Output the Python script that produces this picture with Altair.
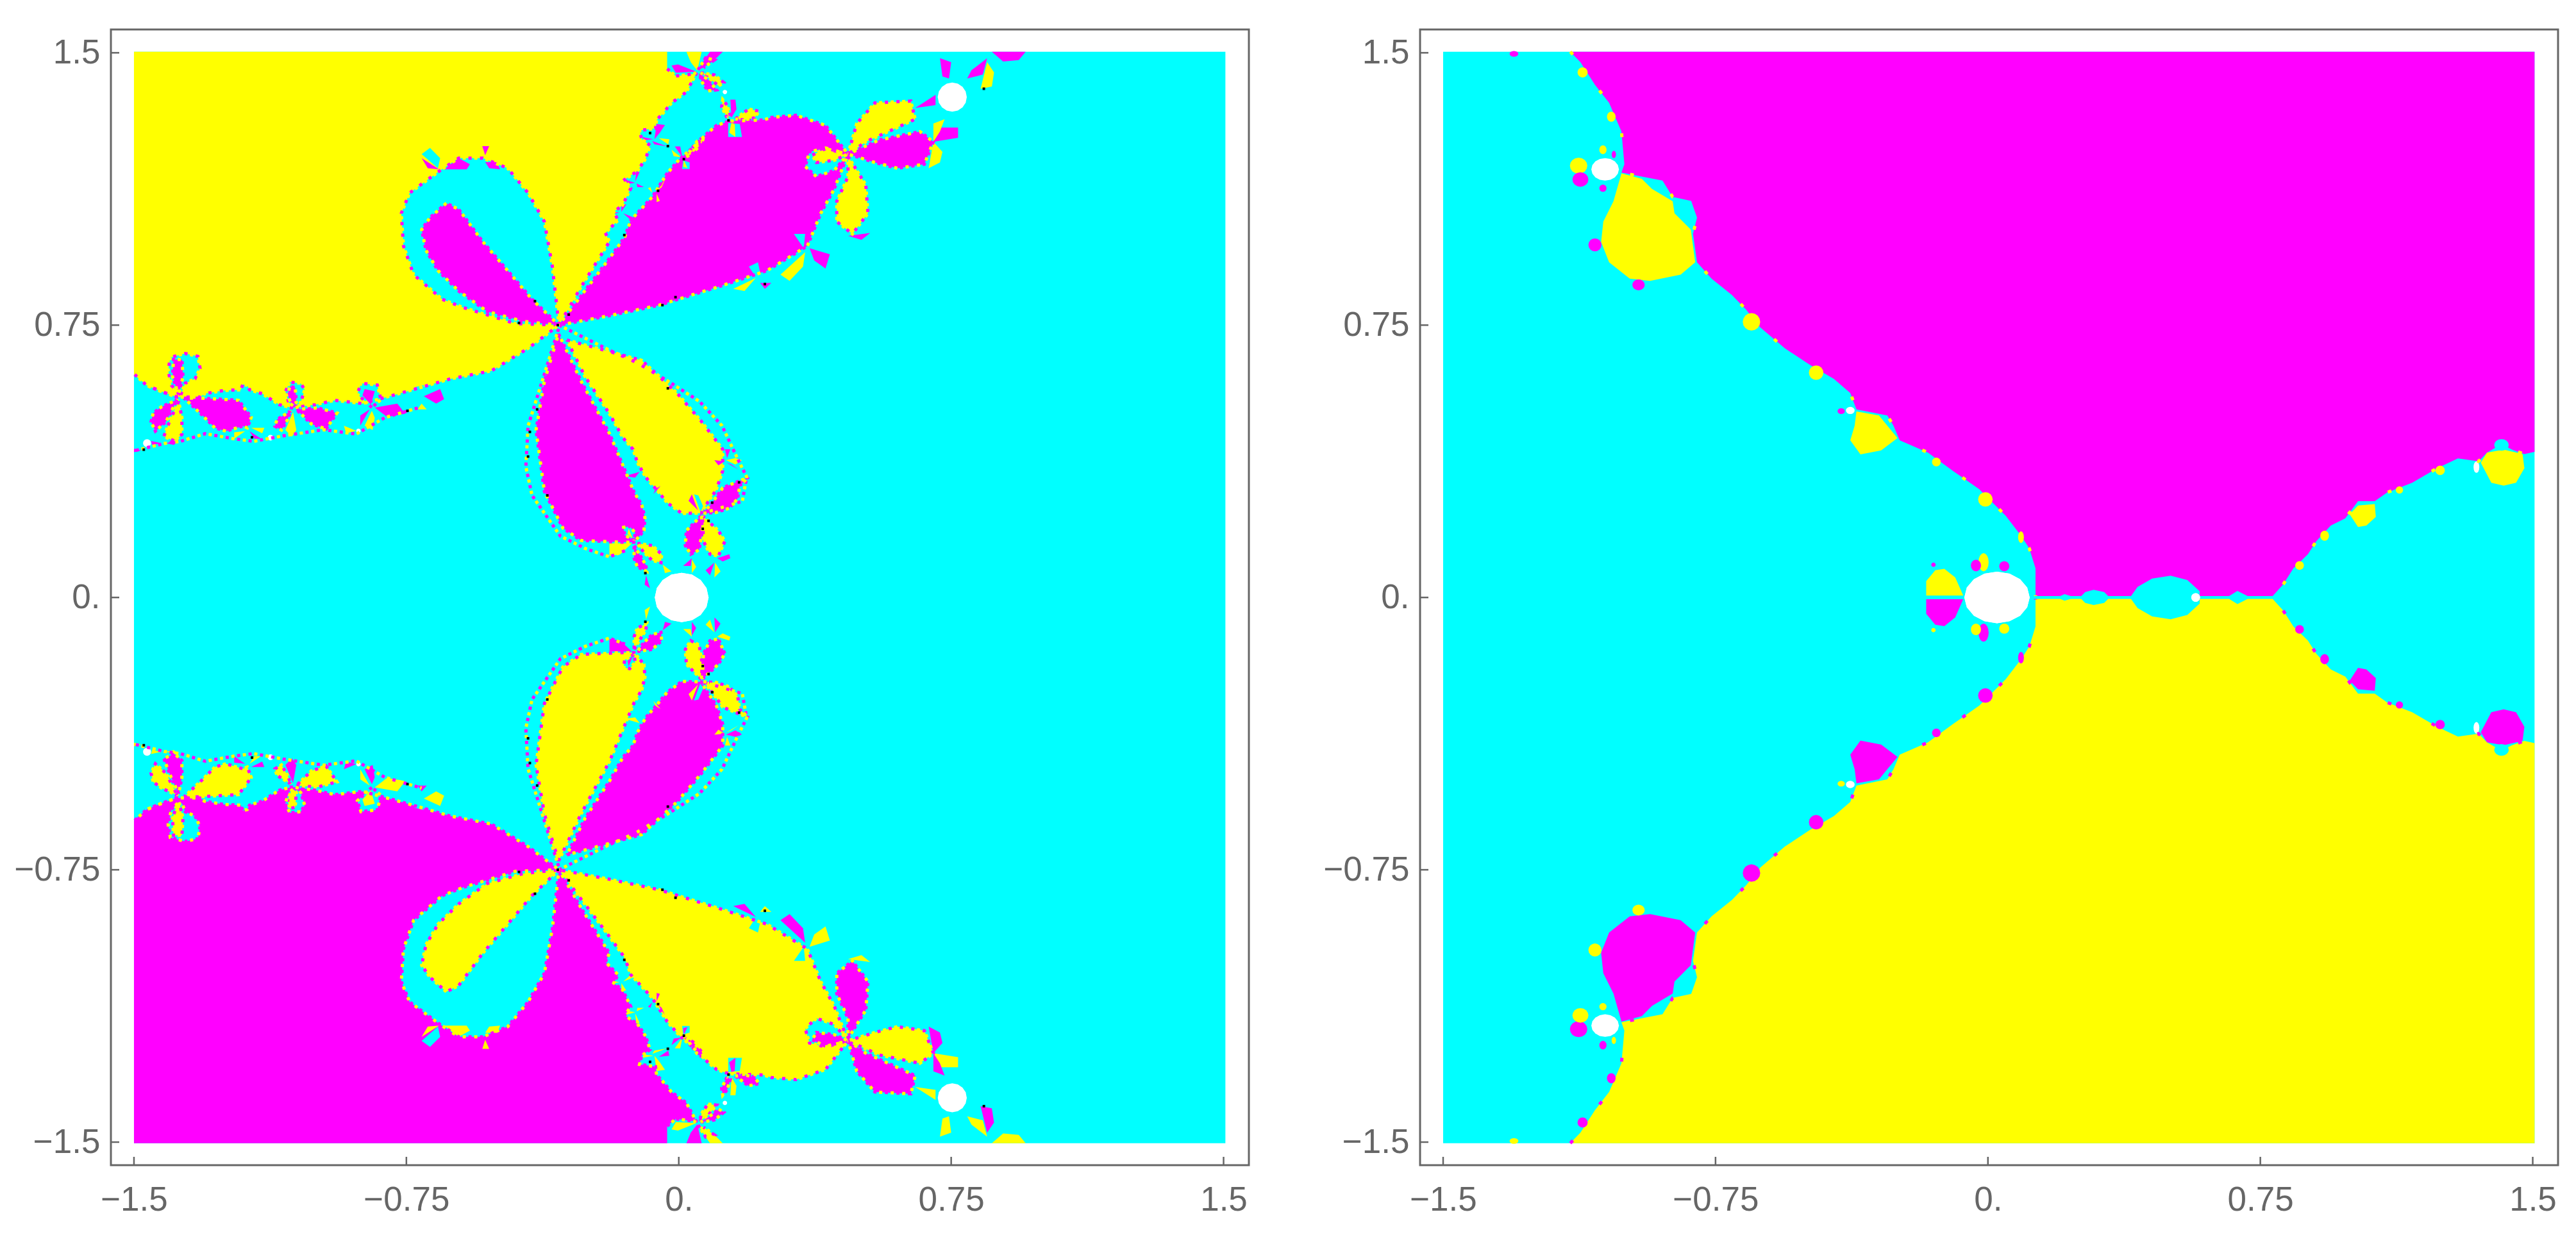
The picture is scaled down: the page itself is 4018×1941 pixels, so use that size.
import math
import altair as alt
import pandas as pd

CYAN, YELLOW, MAGENTA, WHITE, BLACK = "#00ffff", "#ffff00", "#ff00ff", "#ffffff", "#000000"
GRAY = "#666666"
SWAP = {"y": "m", "m": "y", "c": "c", "w": "w", "k": "k"}
HEX = {"y": YELLOW, "m": MAGENTA, "c": CYAN, "w": WHITE, "k": BLACK}

tick_values = [-1.5, -0.75, 0, 0.75, 1.5]
tick_labels = ["\u22121.5", "\u22120.75", "0.", "0.75", "1.5"]
x_domain = [-1.5635, 1.5697]
y_domain = [-1.5635, 1.5642]
image_extent = [(-1.5, 1.503), (1.505, 1.503), (1.505, -1.503), (-1.5, -1.503)]

# Left panel, upper half (the lower half is its conjugate: mirrored, yellow and magenta exchanged)
left_regions = [
    ("y", [(-1.5, 1.503), (-0.032, 1.503), (-0.032, 1.456), (-0.008, 1.436), (0.042, 1.442), (0.051, 1.448),
           (0.021, 1.392), (-0.02, 1.362), (-0.044, 1.333), (-0.061, 1.315), (-0.064, 1.292), (-0.108, 1.286),
           (-0.102, 1.262), (-0.079, 1.245), (-0.091, 1.209), (-0.114, 1.174), (-0.149, 1.151), (-0.132, 1.127),
           (-0.155, 1.08), (-0.179, 1.062), (-0.167, 1.039), (-0.202, 1.004), (-0.191, 0.98), (-0.269, 0.855),
           (-0.33, 0.75), (-0.415, 0.686), (-0.516, 0.624), (-0.629, 0.602), (-0.708, 0.579), (-0.786, 0.557),
           (-0.871, 0.534), (-0.947, 0.543), (-1.0, 0.531), (-1.065, 0.522), (-1.1, 0.531), (-1.147, 0.561),
           (-1.182, 0.572), (-1.188, 0.584), (-1.2, 0.587), (-1.206, 0.572), (-1.253, 0.57), (-1.306, 0.561),
           (-1.318, 0.552), (-1.382, 0.552), (-1.429, 0.569), (-1.465, 0.584), (-1.5, 0.614)]),
    ("y", [(0.021, 1.503), (0.063, 1.503), (0.051, 1.451), (0.033, 1.474)]),
    ("c", [(-0.33, 0.75), (-0.348, 0.911), (-0.37, 1.035), (-0.415, 1.114), (-0.471, 1.182), (-0.539, 1.21),
           (-0.606, 1.21), (-0.657, 1.176), (-0.741, 1.114), (-0.764, 1.058), (-0.758, 0.968), (-0.73, 0.889),
           (-0.651, 0.821), (-0.595, 0.799), (-0.449, 0.754)]),
    ("m", [(-0.33, 0.75), (-0.404, 0.821), (-0.471, 0.9), (-0.539, 0.979), (-0.606, 1.069), (-0.64, 1.086),
           (-0.685, 1.046), (-0.708, 1.013), (-0.696, 0.956), (-0.663, 0.9), (-0.606, 0.844), (-0.528, 0.788),
           (-0.426, 0.76)]),
    ("m", [(-0.33, 0.75), (-0.191, 0.934), (-0.149, 0.992), (-0.132, 1.039), (-0.073, 1.103), (-0.032, 1.168),
           (0.004, 1.209), (0.039, 1.239), (0.08, 1.28), (0.104, 1.3), (0.139, 1.312), (0.233, 1.315), (0.255, 1.322),
           (0.323, 1.328), (0.404, 1.3), (0.466, 1.221), (0.428, 1.125), (0.391, 1.058), (0.354, 0.968), (0.243, 0.9),
           (0.107, 0.855), (-0.054, 0.805), (-0.191, 0.776)]),
    ("y", [(-0.308, 0.709), (-0.102, 0.653), (-0.005, 0.563), (0.063, 0.484), (0.121, 0.408), (0.121, 0.349),
           (0.103, 0.296), (0.071, 0.249), (0.062, 0.232), (0.033, 0.232), (0.009, 0.231), (-0.032, 0.261),
           (-0.058, 0.293), (-0.091, 0.331), (-0.114, 0.372), (-0.126, 0.408), (-0.153, 0.439), (-0.191, 0.506),
           (-0.258, 0.608)]),
    ("m", [(-0.331, 0.726), (-0.269, 0.596), (-0.19, 0.45), (-0.123, 0.29), (-0.102, 0.255), (-0.093, 0.219),
           (-0.096, 0.184), (-0.123, 0.152), (-0.156, 0.152), (-0.269, 0.157), (-0.319, 0.191), (-0.37, 0.292),
           (-0.393, 0.461), (-0.37, 0.596)]),
]

left_chain_right = [
    ("c", [(0.466, 1.221), (0.428, 1.176), (0.379, 1.159), (0.348, 1.187), (0.36, 1.227), (0.404, 1.238)]),
    ("y", [(0.466, 1.221), (0.404, 1.236), (0.367, 1.218), (0.379, 1.198), (0.428, 1.204)]),
    ("y", [(0.466, 1.221), (0.49, 1.305), (0.54, 1.362), (0.639, 1.367), (0.651, 1.317), (0.577, 1.283), (0.515, 1.255)]),
    ("m", [(0.466, 1.221), (0.552, 1.26), (0.664, 1.283), (0.701, 1.255), (0.676, 1.193), (0.602, 1.182), (0.54, 1.198)]),
    ("y", [(0.466, 1.215), (0.515, 1.136), (0.521, 1.058), (0.478, 1.001), (0.435, 1.035), (0.435, 1.091), (0.466, 1.159)]),
    ("m", [(0.466, 0.996), (0.527, 1.004), (0.503, 0.985)]),
    ("y", [(0.701, 1.255), (0.726, 1.227), (0.719, 1.198), (0.688, 1.182)]),
    ("m", [(0.701, 1.255), (0.713, 1.294), (0.769, 1.294), (0.769, 1.266)]),
    ("y", [(0.701, 1.255), (0.701, 1.305), (0.732, 1.317), (0.719, 1.283)]),
    ("m", [(0.651, 1.348), (0.707, 1.384), (0.707, 1.356)]),
    ("m", [(0.719, 1.485), (0.75, 1.474), (0.744, 1.429), (0.726, 1.435)]),
    ("m", [(0.849, 1.485), (0.806, 1.452), (0.794, 1.429), (0.837, 1.44)]),
    ("y", [(0.849, 1.474), (0.868, 1.446), (0.862, 1.407), (0.831, 1.401)]),
    ("m", [(0.862, 1.503), (0.955, 1.503), (0.936, 1.48), (0.893, 1.476)]),
    ("y", [(0.348, 0.951), (0.28, 0.889), (0.305, 0.872), (0.342, 0.911)]),
    ("m", [(0.36, 0.962), (0.416, 0.945), (0.404, 0.906), (0.373, 0.928)]),
    ("c", [(0.344, 0.962), (0.317, 1.001), (0.348, 1.001)]),
    ("y", [(0.212, 0.88), (0.15, 0.85), (0.181, 0.844)]),
    ("c", [(0.21, 0.885), (0.193, 0.911), (0.218, 0.923), (0.224, 0.895)]),
    ("m", [(0.224, 0.866), (0.255, 0.866), (0.237, 0.85)]),
]

left_chain_band = [
    ("m", [(0.048, 1.448), (-0.002, 1.468), (-0.02, 1.465), (-0.008, 1.445)]),
    ("m", [(0.053, 1.453), (0.074, 1.486), (0.086, 1.503), (0.121, 1.503), (0.098, 1.48), (0.068, 1.459)]),
    ("m", [(0.057, 1.442), (0.08, 1.427), (0.104, 1.398), (0.08, 1.395), (0.063, 1.421)]),
    ("y", [(0.06, 1.445), (0.098, 1.439), (0.124, 1.418), (0.11, 1.409), (0.08, 1.433)]),
    ("y", [(0.133, 1.321), (0.118, 1.351), (0.121, 1.371), (0.133, 1.356), (0.142, 1.327)]),
    ("m", [(0.145, 1.321), (0.142, 1.371), (0.156, 1.371), (0.159, 1.345)]),
    ("y", [(0.156, 1.318), (0.192, 1.345), (0.221, 1.339), (0.209, 1.321), (0.18, 1.315)]),
    ("c", [(0.136, 1.307), (0.136, 1.268), (0.174, 1.268), (0.168, 1.304)]),
    ("y", [(0.145, 1.307), (0.139, 1.28), (0.156, 1.268), (0.154, 1.304)]),
    ("c", [(0.012, 1.204), (0.009, 1.18), (0.03, 1.18), (0.03, 1.198)]),
    ("y", [(0.014, 1.204), (0.012, 1.186), (0.024, 1.183)]),
    ("y", [(0.019, 1.212), (0.051, 1.257), (0.069, 1.268), (0.063, 1.251), (0.039, 1.224)]),
    ("m", [(0.01, 1.212), (-0.011, 1.242), (0.004, 1.242)]),
    ("y", [(0.007, 1.212), (-0.02, 1.233), (-0.014, 1.215)]),
    ("y", [(-0.029, 1.248), (-0.055, 1.265), (-0.026, 1.262)]),
    ("m", [(-0.032, 1.242), (-0.073, 1.257), (-0.067, 1.248)]),
    ("m", [(-0.067, 1.262), (-0.061, 1.304), (-0.038, 1.301), (-0.052, 1.28)]),
    ("m", [(-0.07, 1.262), (-0.1, 1.268), (-0.096, 1.259)]),
    ("y", [(-0.058, 1.121), (-0.038, 1.151), (-0.047, 1.13)]),
    ("y", [(-0.061, 1.112), (-0.061, 1.089), (-0.052, 1.092)]),
    ("y", [(-0.085, 1.127), (-0.073, 1.115), (-0.078, 1.13)]),
    ("m", [(-0.12, 1.142), (-0.149, 1.151), (-0.14, 1.139)]),
    ("m", [(-0.116, 1.14), (-0.096, 1.13), (-0.114, 1.13)]),
    ("m", [(-0.12, 1.145), (-0.117, 1.174), (-0.108, 1.171)]),
    ("m", [(-0.158, 1.062), (-0.158, 1.08), (-0.144, 1.083)]),
    ("m", [(-0.163, 1.06), (-0.179, 1.062), (-0.176, 1.057)]),
    ("m", [(-0.153, 1.058), (-0.12, 1.045), (-0.132, 1.039)]),
]

left_chain_middle = [
    ("y", [(-0.191, 0.149), (-0.129, 0.149), (-0.161, 0.119), (-0.191, 0.114)]),
    ("m", [(-0.123, 0.143), (-0.091, 0.09), (-0.088, 0.072), (-0.114, 0.084), (-0.123, 0.108)]),
    ("y", [(-0.114, 0.149), (-0.073, 0.143), (-0.047, 0.119), (-0.049, 0.096), (-0.073, 0.102), (-0.097, 0.125)]),
    ("c", [(-0.123, 0.157), (-0.149, 0.172), (-0.152, 0.193), (-0.135, 0.196), (-0.12, 0.178)]),
    ("y", [(-0.138, 0.19), (-0.126, 0.16), (-0.141, 0.175)]),
    ("m", [(-0.09, 0.061), (-0.079, 0.025), (-0.094, 0.035)]),
    ("y", [(-0.044, 0.09), (-0.02, 0.072), (-0.038, 0.067)]),
    ("c", [(0.059, 0.237), (0.042, 0.284), (0.054, 0.281), (0.068, 0.249)]),
    ("m", [(0.053, 0.24), (0.027, 0.266), (0.036, 0.284), (0.045, 0.26)]),
    ("m", [(0.068, 0.232), (0.092, 0.261), (0.121, 0.302), (0.162, 0.319), (0.192, 0.331), (0.168, 0.308), (0.162, 0.272),
           (0.139, 0.246), (0.103, 0.234)]),
    ("m", [(0.062, 0.225), (0.021, 0.184), (0.018, 0.143), (0.033, 0.119), (0.056, 0.131), (0.065, 0.184)]),
    ("y", [(0.065, 0.225), (0.109, 0.184), (0.127, 0.155), (0.109, 0.114), (0.086, 0.119), (0.068, 0.155)]),
    ("m", [(0.106, 0.108), (0.139, 0.119), (0.142, 0.108), (0.121, 0.099)]),
    ("y", [(0.13, 0.378), (0.156, 0.384), (0.174, 0.378), (0.156, 0.366)]),
    ("m", [(0.13, 0.372), (0.165, 0.352), (0.145, 0.366)]),
    ("m", [(0.127, 0.408), (0.133, 0.384), (0.142, 0.408)]),
    ("m", [(0.098, 0.378), (0.127, 0.375), (0.109, 0.364)]),
    ("m", [(0.074, 0.075), (0.098, 0.096), (0.086, 0.061)]),
    ("y", [(0.1, 0.096), (0.115, 0.072), (0.098, 0.055)]),
    ("m", [(0.012, 0.087), (0.036, 0.108), (0.033, 0.087)]),
    ("y", [(0.036, 0.105), (0.048, 0.084), (0.036, 0.067)]),
    ("m", [(-0.149, 0.334), (-0.108, 0.346), (-0.12, 0.33)]),
    ("m", [(-0.064, 0.299), (-0.05, 0.307), (-0.07, 0.285)]),
]

left_chain_left = [
    ("c", [(-1.371, 0.558), (-1.359, 0.59), (-1.332, 0.602), (-1.318, 0.631), (-1.324, 0.664), (-1.359, 0.672),
           (-1.4, 0.661), (-1.406, 0.625), (-1.397, 0.584)]),
    ("m", [(-1.377, 0.558), (-1.394, 0.608), (-1.391, 0.655), (-1.368, 0.655), (-1.365, 0.608)]),
    ("m", [(-1.362, 0.549), (-1.318, 0.549), (-1.212, 0.543), (-1.177, 0.496), (-1.188, 0.467), (-1.2, 0.472),
           (-1.247, 0.458), (-1.277, 0.467), (-1.312, 0.502)]),
    ("m", [(-1.379, 0.546), (-1.424, 0.525), (-1.447, 0.508), (-1.453, 0.484), (-1.441, 0.458), (-1.412, 0.484), (-1.388, 0.531)]),
    ("y", [(-1.377, 0.54), (-1.4, 0.49), (-1.418, 0.443), (-1.388, 0.431), (-1.368, 0.449), (-1.368, 0.496)]),
    ("y", [(-1.224, 0.437), (-1.194, 0.458), (-1.224, 0.455)]),
    ("y", [(-1.177, 0.467), (-1.141, 0.467), (-1.147, 0.452)]),
    ("m", [(-1.182, 0.458), (-1.15, 0.437), (-1.168, 0.437)]),
    ("m", [(-1.412, 0.425), (-1.376, 0.434), (-1.39, 0.42)]),
    ("m", [(-1.453, 0.431), (-1.424, 0.425), (-1.45, 0.42)]),
    ("m", [(-1.5, 0.41), (-1.48, 0.405), (-1.5, 0.4)]),
    ("c", [(-1.058, 0.525), (-1.041, 0.537), (-1.03, 0.572), (-1.041, 0.59), (-1.071, 0.593), (-1.083, 0.567), (-1.074, 0.537)]),
    ("m", [(-1.064, 0.525), (-1.077, 0.558), (-1.071, 0.581), (-1.056, 0.578), (-1.053, 0.537)]),
    ("m", [(-1.053, 0.518), (-0.994, 0.522), (-0.941, 0.508), (-0.971, 0.464), (-1.012, 0.478)]),
    ("m", [(-1.068, 0.514), (-1.106, 0.49), (-1.112, 0.472), (-1.094, 0.461), (-1.077, 0.49)]),
    ("y", [(-1.062, 0.511), (-1.083, 0.461), (-1.065, 0.443), (-1.053, 0.461)]),
    ("y", [(-0.922, 0.473), (-0.888, 0.459), (-0.916, 0.452)]),
    ("c", [(-0.845, 0.523), (-0.885, 0.56), (-0.875, 0.59), (-0.83, 0.585), (-0.82, 0.545)]),
    ("m", [(-0.848, 0.531), (-0.871, 0.557), (-0.865, 0.574), (-0.837, 0.568)]),
    ("y", [(-0.845, 0.514), (-0.865, 0.473), (-0.843, 0.461), (-0.837, 0.495)]),
    ("m", [(-0.851, 0.518), (-0.877, 0.501), (-0.877, 0.473)]),
    ("m", [(-0.837, 0.523), (-0.775, 0.534), (-0.753, 0.506), (-0.803, 0.497)]),
    ("m", [(-0.702, 0.554), (-0.657, 0.574), (-0.646, 0.546), (-0.668, 0.534)]),
    ("c", [(-0.71, 0.551), (-0.728, 0.579), (-0.702, 0.585)]),
    ("y", [(-0.708, 0.534), (-0.719, 0.518), (-0.694, 0.518)]),
    ("c", [(-0.663, 1.182), (-0.708, 1.221), (-0.685, 1.238), (-0.657, 1.21)]),
    ("m", [(-0.66, 1.179), (-0.708, 1.21), (-0.691, 1.182)]),
    ("m", [(-0.646, 1.179), (-0.606, 1.21), (-0.575, 1.193), (-0.584, 1.179)]),
    ("m", [(-0.541, 1.243), (-0.522, 1.243), (-0.533, 1.218)]),
    ("m", [(-0.533, 1.199), (-0.5, 1.199), (-0.492, 1.179), (-0.522, 1.182)]),
]

left_extra_edges = [
    [(-0.331, 0.74), (-0.376, 0.596), (-0.415, 0.472), (-0.421, 0.36), (-0.404, 0.281), (-0.326, 0.169),
     (-0.258, 0.135), (-0.191, 0.112), (-0.147, 0.129)],
    [(-0.33, 0.75), (-0.191, 0.681), (-0.116, 0.647), (-0.03, 0.596), (0.057, 0.54), (0.119, 0.473),
     (0.162, 0.382), (0.187, 0.332), (0.175, 0.265), (0.063, 0.231)],
    [(-1.495, 0.405), (-1.417, 0.424), (-1.372, 0.43), (-1.304, 0.451), (-1.225, 0.437), (-1.17, 0.43),
     (-1.09, 0.445), (-0.978, 0.462), (-0.888, 0.45), (-0.81, 0.495), (-0.708, 0.525)],
    [(-1.498, 0.614), (-1.465, 0.584), (-1.429, 0.569), (-1.382, 0.552)],
]

# blobs: colour, centre x, centre y, half width, half height
left_blobs = [
    ("w", 0.008, 0.0, 0.074, 0.068),
    ("w", 0.753, 1.378, 0.04, 0.04),
    ("w", -1.464, 0.425, 0.011, 0.011),
    ("w", -1.124, 0.44, 0.008, 0.008),
    ("w", -0.882, 0.459, 0.006, 0.006),
    ("w", 0.127, 1.392, 0.006, 0.006),
]

left_specks = [(-0.333, 0.75), (-0.396, 0.816), (-0.44, 0.756), (-0.303, 0.779), (-0.39, 0.518), (-0.41, 0.456),
               (-0.415, 0.388), (-0.362, 0.281), (-1.175, 0.441), (-1.473, 0.407), (-0.747, 0.514), (-0.079, 1.279),
               (-0.03, 1.243), (0.014, 1.207), (-0.057, 1.12), (-0.15, 0.998), (0.137, 1.314), (0.237, 0.863),
               (-0.009, 0.827), (-0.045, 0.805), (-0.03, 0.576), (0.092, 0.261), (0.166, 0.317), (0.066, 0.189),
               (0.082, 0.211), (-0.092, 0.067), (0.84, 1.401)]

# Right panel, upper half
right_boundary_left = [(-1.15, 1.503), (-1.122, 1.474), (-1.082, 1.412), (-1.043, 1.362), (-1.009, 1.283), (-1.001, 1.193),
                       (-1.009, 1.17), (-0.953, 1.159), (-0.896, 1.148), (-0.868, 1.103), (-0.817, 1.092), (-0.801, 1.046),
                       (-0.812, 1.001), (-0.801, 0.923), (-0.761, 0.878), (-0.705, 0.833), (-0.666, 0.793), (-0.626, 0.743),
                       (-0.559, 0.686), (-0.491, 0.641), (-0.424, 0.602), (-0.379, 0.563), (-0.362, 0.518), (-0.277, 0.501),
                       (-0.26, 0.473), (-0.243, 0.433), (-0.165, 0.399), (-0.097, 0.349), (-0.024, 0.298), (0.049, 0.225),
                       (0.092, 0.169), (0.114, 0.135), (0.131, 0.08), (0.131, 0.004)]
right_boundary_mid = [(0.199, 0.004), (0.211, 0.009), (0.228, 0.004), (0.257, 0.004), (0.268, 0.015), (0.291, 0.021),
                      (0.32, 0.015), (0.331, 0.004), (0.394, 0.004), (0.412, 0.029), (0.452, 0.052), (0.503, 0.06),
                      (0.549, 0.048), (0.583, 0.017), (0.583, 0.004), (0.664, 0.004), (0.687, 0.018), (0.715, 0.004),
                      (0.784, 0.004)]
right_boundary_right = [(0.813, 0.036), (0.841, 0.08), (0.881, 0.119), (0.904, 0.155), (0.944, 0.198), (0.984, 0.218),
                        (1.019, 0.265), (1.065, 0.265), (1.099, 0.289), (1.168, 0.316), (1.237, 0.356), (1.294, 0.383),
                        (1.351, 0.375), (1.374, 0.399), (1.414, 0.422), (1.443, 0.407), (1.477, 0.395), (1.505, 0.401)]
right_corners = [(1.505, 1.503)]

right_lobes = [
    ("y", [(-1.009, 1.168), (-0.953, 1.153), (-0.925, 1.125), (-0.868, 1.091), (-0.863, 1.058), (-0.818, 1.013),
           (-0.806, 0.923), (-0.846, 0.889), (-0.93, 0.872), (-0.986, 0.878), (-1.043, 0.923), (-1.065, 0.979),
           (-1.059, 1.035), (-1.031, 1.091)]),
    ("y", [(-0.362, 0.512), (-0.3, 0.501), (-0.249, 0.439), (-0.294, 0.405), (-0.351, 0.394), (-0.379, 0.433), (-0.367, 0.473)]),
    ("y", [(-0.17, 0.005), (-0.17, 0.045), (-0.145, 0.075), (-0.12, 0.079), (-0.09, 0.055), (-0.068, 0.005)]),
    ("y", [(0.996, 0.229), (1.019, 0.253), (1.065, 0.257), (1.068, 0.222), (1.042, 0.198), (1.019, 0.194)]),
    ("y", [(1.357, 0.371), (1.374, 0.399), (1.42, 0.407), (1.472, 0.395), (1.477, 0.356), (1.454, 0.316), (1.42, 0.308), (1.386, 0.316)]),
]

right_blobs = [
    ("y", -1.116, 1.446, 0.014, 0.014), ("y", -1.037, 1.324, 0.012, 0.014), ("y", -0.651, 0.759, 0.024, 0.024),
    ("y", -0.473, 0.619, 0.02, 0.02), ("y", -0.142, 0.373, 0.012, 0.012), ("y", -0.007, 0.27, 0.02, 0.02),
    ("y", -1.127, 1.189, 0.024, 0.022), ("m", -1.122, 1.151, 0.022, 0.02), ("m", -1.082, 0.971, 0.018, 0.018),
    ("m", -0.962, 0.861, 0.017, 0.015), ("m", -1.305, 1.497, 0.012, 0.008), ("m", -1.03, 1.22, 0.006, 0.01),
    ("y", -1.06, 1.233, 0.01, 0.012), ("m", -1.06, 1.127, 0.01, 0.01), ("m", -0.404, 0.513, 0.01, 0.008),
    ("y", -0.012, 0.097, 0.014, 0.025), ("m", -0.033, 0.088, 0.014, 0.016), ("m", 0.045, 0.086, 0.014, 0.014),
    ("y", 0.091, 0.166, 0.008, 0.016), ("y", 1.245, 0.35, 0.013, 0.013), ("y", 1.133, 0.296, 0.01, 0.01),
    ("y", 0.927, 0.17, 0.012, 0.014), ("y", 0.858, 0.088, 0.012, 0.012), ("c", 1.414, 0.42, 0.02, 0.016),
    ("m", -0.15, 0.09, 0.006, 0.006),
    ("w", 0.025, 0.0, 0.09, 0.071), ("w", -1.054, 1.179, 0.038, 0.031), ("w", -0.379, 0.515, 0.012, 0.01),
    ("w", 1.345, 0.359, 0.008, 0.016), ("w", 0.572, 0.0, 0.012, 0.012),
]

label_expr = "{}[indexof({}, datum.value)]".format(
    "[" + ",".join("'" + t + "'" for t in tick_labels) + "]",
    "[" + ",".join(str(v) for v in tick_values) + "]")


def blob_outline(rx, ry, cx, cy):
    return [(cx + rx * math.cos(a * math.pi / 8), cy + ry * math.sin(a * math.pi / 8)) for a in range(16)]


def mirror(points):
    return [(px, -py) for px, py in points]


def fill_rows(shapes):
    rows = []
    for pid, (key, pts) in enumerate(shapes):
        for i, (px, py) in enumerate(pts):
            rows.append({"poly": pid, "i": i, "x": px, "y": py, "col": HEX[key]})
    return rows


def edge_rows(paths):
    rows = []
    for pid, pts in enumerate(paths):
        for i, (px, py) in enumerate(pts):
            rows.append({"poly": pid, "i": i, "x": px, "y": py})
    return rows


def conjugated(shapes):
    return shapes + [(SWAP[k], mirror(p)) for k, p in shapes]


def panel(shapes, edges, sparse_edges, specks):
    H = 1772
    W = 1775
    x_axis = alt.Axis(values=tick_values, labelExpr=label_expr, title=None, grid=False, ticks=False, domain=False,
                      labelFont="Liberation Sans", labelFontSize=53, labelColor=GRAY, labelPadding=28,
                      labelOverlap=False, labelFlush=False, labelBound=False)
    y_axis = alt.Axis(values=tick_values, labelExpr=label_expr, title=None, grid=False, ticks=False, domain=False,
                      labelFont="Liberation Sans", labelFontSize=53, labelColor=GRAY, labelPadding=17,
                      labelOverlap=False, labelFlush=False, labelBound=False)
    x_scale = alt.Scale(domain=x_domain, nice=False, zero=False)
    y_scale = alt.Scale(domain=y_domain, nice=False, zero=False)
    x = alt.X("x:Q", scale=x_scale, axis=x_axis)
    y = alt.Y("y:Q", scale=y_scale, axis=y_axis)
    fills = (alt.Chart(pd.DataFrame(fill_rows(shapes))).mark_line(filled=True, strokeWidth=0)
             .encode(x=x, y=y, order="i:Q", detail="poly:N", fill=alt.Fill("col:N", scale=None)))
    layers = [fills]
    if edges:
        df = pd.DataFrame(edge_rows(edges))
        for colour, off in ((MAGENTA, 0), (YELLOW, 9)):
            layers.append(alt.Chart(df).mark_line(stroke=colour, strokeWidth=5, strokeDash=[5, 13], strokeDashOffset=off,
                                                  strokeCap="butt")
                          .encode(x=x, y=y, order="i:Q", detail="poly:N"))
    if sparse_edges:
        df = pd.DataFrame(sparse_edges)
        layers.append(alt.Chart(df).mark_line(strokeWidth=5, strokeDash=[6, 70], strokeCap="butt")
                      .encode(x=x, y=y, order="i:Q", detail="poly:N", stroke=alt.Stroke("col:N", scale=None)))
    if specks:
        layers.append(alt.Chart(pd.DataFrame(specks, columns=["x", "y"])).mark_square(size=16, color=BLACK, opacity=1)
                      .encode(x=x, y=y))
    ticks = pd.DataFrame({"x": tick_values, "y": tick_values})
    layers.append(alt.Chart(ticks).mark_rule(color=GRAY, strokeWidth=2.5)
                  .encode(x=x, y=alt.value(H - 13), y2=alt.value(H)))
    layers.append(alt.Chart(ticks).mark_rule(color=GRAY, strokeWidth=2.5)
                  .encode(y=y, x=alt.value(0), x2=alt.value(13)))
    return alt.layer(*layers).properties(width=W, height=H)


# Left panel assembly
left_upper = left_regions + left_chain_right + left_chain_band + left_chain_middle + left_chain_left
left_white = [(k, blob_outline(rx, ry, cx, cy)) for k, cx, cy, rx, ry in left_blobs]
left_shapes = [("c", image_extent)] + conjugated(left_upper) + conjugated(left_white)

left_edges = []
for key, pts in left_upper:
    if len(pts) < 5:
        continue
    open_pts = [p for p in pts if abs(p[0]) < 1.5 and abs(p[1]) < 1.5]
    closed = open_pts if len(open_pts) < len(pts) else pts + pts[:1]
    left_edges.append(closed)
    left_edges.append(mirror(closed))
for pts in left_extra_edges:
    left_edges.append(pts)
    left_edges.append(mirror(pts))
left_speck_points = left_specks + mirror(left_specks)

# Right panel assembly
right_main = right_boundary_left + right_boundary_mid + right_boundary_right + right_corners
right_upper = [("m", right_main)] + right_lobes + [(k, blob_outline(rx, ry, cx, cy)) for k, cx, cy, rx, ry in right_blobs]
right_shapes = [("c", image_extent)] + conjugated(right_upper)

right_sparse = []
for i, (px, py) in enumerate(right_boundary_left):
    right_sparse.append({"poly": 0, "i": i, "x": px, "y": py, "col": YELLOW})
    right_sparse.append({"poly": 1, "i": i, "x": px, "y": -py, "col": MAGENTA})
for i, (px, py) in enumerate(right_boundary_right):
    right_sparse.append({"poly": 2, "i": i, "x": px, "y": py, "col": YELLOW})
    right_sparse.append({"poly": 3, "i": i, "x": px, "y": -py, "col": MAGENTA})

left_chart = panel(left_shapes, left_edges, None, left_speck_points)
right_chart = panel(right_shapes, None, right_sparse, None)

chart = (alt.hconcat(left_chart, right_chart, spacing=112)
         .properties(padding={"left": 12, "top": 36, "right": 5, "bottom": 5}, background="white")
         .configure_view(stroke=GRAY, strokeWidth=3))

chart.save("out.html", embed_options={"renderer": "svg", "actions": False})
